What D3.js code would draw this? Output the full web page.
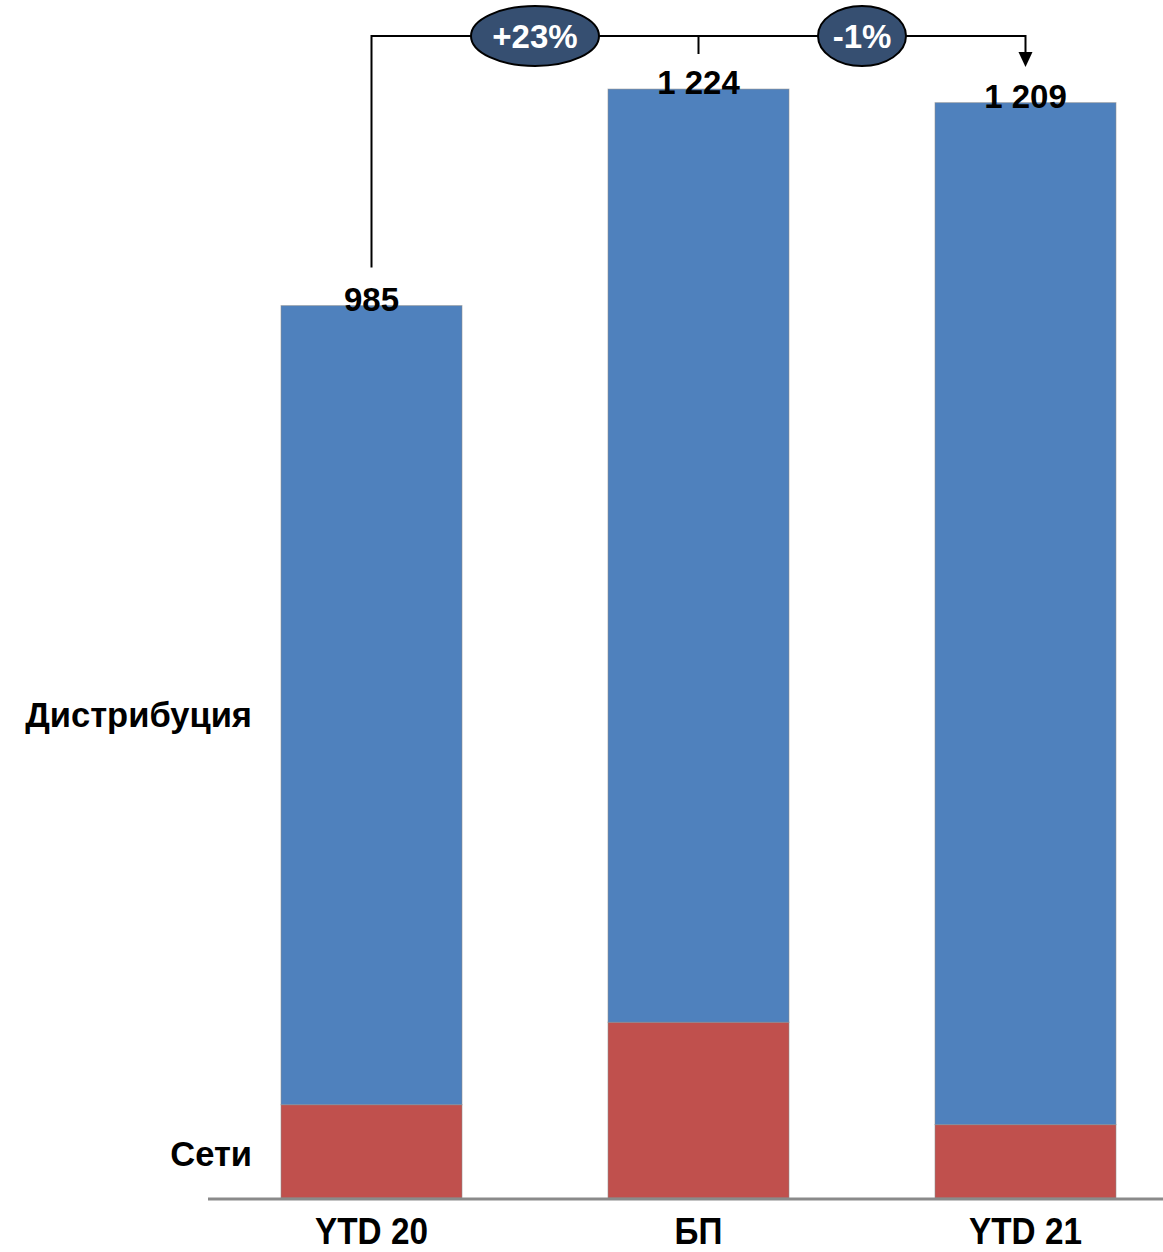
<!DOCTYPE html>
<html><head><meta charset="utf-8">
<script src="https://cdn.jsdelivr.net/npm/d3@7"></script>
<style>html,body{margin:0;padding:0;background:#fff;}svg{display:block;font-family:"Liberation Sans",Arial,sans-serif;}</style>
</head><body>
<script>
const categories = ["YTD 20", "БП", "YTD 21"];
const seti = [103, 194, 81];
const distribution = [882, 1030, 1128];
const totals = [985, 1224, 1209];
const totalLabels = ["985", "1 224", "1 209"];
const seriesNames = ["Сети", "Дистрибуция"];
const changeLabels = ["+23%", "-1%"];

const W = 1163, H = 1252;
const svg = d3.select("body").append("svg").attr("width", W).attr("height", H);

const x = d3.scaleBand().domain(categories).range([135, 1262]).paddingInner(0.4465).paddingOuter(0.4465);
const y = d3.scaleLinear().domain([0, 1000]).range([1198, 292]);

const colors = {"Сети": "#C0504D", "Дистрибуция": "#4F81BD"};
const rows = categories.map((c, i) => ({cat: c, "Сети": seti[i], "Дистрибуция": distribution[i]}));
const stack = d3.stack().keys(seriesNames)(rows);

svg.append("g").selectAll("g").data(stack).join("g")
  .attr("fill", d => colors[d.key])
  .selectAll("rect").data(d => d).join("rect")
  .attr("x", d => x(d.data.cat))
  .attr("width", x.bandwidth())
  .attr("y", d => y(d[1]))
  .attr("height", d => y(d[0]) - y(d[1]))
  .attr("stroke", "rgba(140,140,140,0.55)")
  .attr("stroke-width", 1);

// axis baseline
svg.append("line").attr("x1", 208).attr("x2", W).attr("y1", y(0) + 1).attr("y2", y(0) + 1)
  .attr("stroke", "#8a8a8a").attr("stroke-width", 3);

// category labels
svg.append("g").selectAll("text").data(categories).join("text")
  .attr("transform", d => `translate(${x(d) + x.bandwidth() / 2},1244) scale(0.9,1)`)
  .attr("text-anchor", "middle")
  .attr("font-size", 37).attr("font-weight", "bold").attr("fill", "#000")
  .text(d => d);

// total labels
svg.append("g").selectAll("text").data(categories).join("text")
  .attr("x", d => x(d) + x.bandwidth() / 2)
  .attr("y", (d, i) => y(totals[i]) + 5)
  .attr("text-anchor", "middle")
  .attr("font-size", 33).attr("font-weight", "bold").attr("fill", "#000")
  .text((d, i) => totalLabels[i]);

// series labels
svg.append("text").attr("x", 252).attr("y", 727).attr("text-anchor", "end")
  .attr("font-size", 34.5).attr("font-weight", "bold").text(seriesNames[1]);
svg.append("text").attr("x", 252).attr("y", 1166).attr("text-anchor", "end")
  .attr("font-size", 34.5).attr("font-weight", "bold").text(seriesNames[0]);

// bracket
const cx = categories.map(c => x(c) + x.bandwidth() / 2);
const by = 36;
svg.append("path")
  .attr("d", `M${cx[0]},${y(totals[0]) - 38}V${by}H${cx[2]}V53`)
  .attr("fill", "none").attr("stroke", "#000").attr("stroke-width", 2);
svg.append("path").attr("d", `M${cx[1]},${by}V54`).attr("stroke", "#000").attr("stroke-width", 2);
svg.append("path").attr("d", `M${cx[2] - 7},52L${cx[2] + 7},52L${cx[2]},67Z`).attr("fill", "#000");

const ell = [{cx: (cx[0] + cx[1]) / 2, rx: 64, t: changeLabels[0]}, {cx: (cx[1] + cx[2]) / 2, rx: 44, t: changeLabels[1]}];
const eg = svg.append("g").selectAll("g").data(ell).join("g");
eg.append("ellipse").attr("cx", d => d.cx).attr("cy", by).attr("rx", d => d.rx).attr("ry", 30)
  .attr("fill", "#364F71").attr("stroke", "#000").attr("stroke-width", 2);
eg.append("text").attr("x", d => d.cx).attr("y", by + 12).attr("text-anchor", "middle")
  .attr("font-size", 33).attr("font-weight", "bold").attr("fill", "#fff").text(d => d.t);
</script>
</body></html>
